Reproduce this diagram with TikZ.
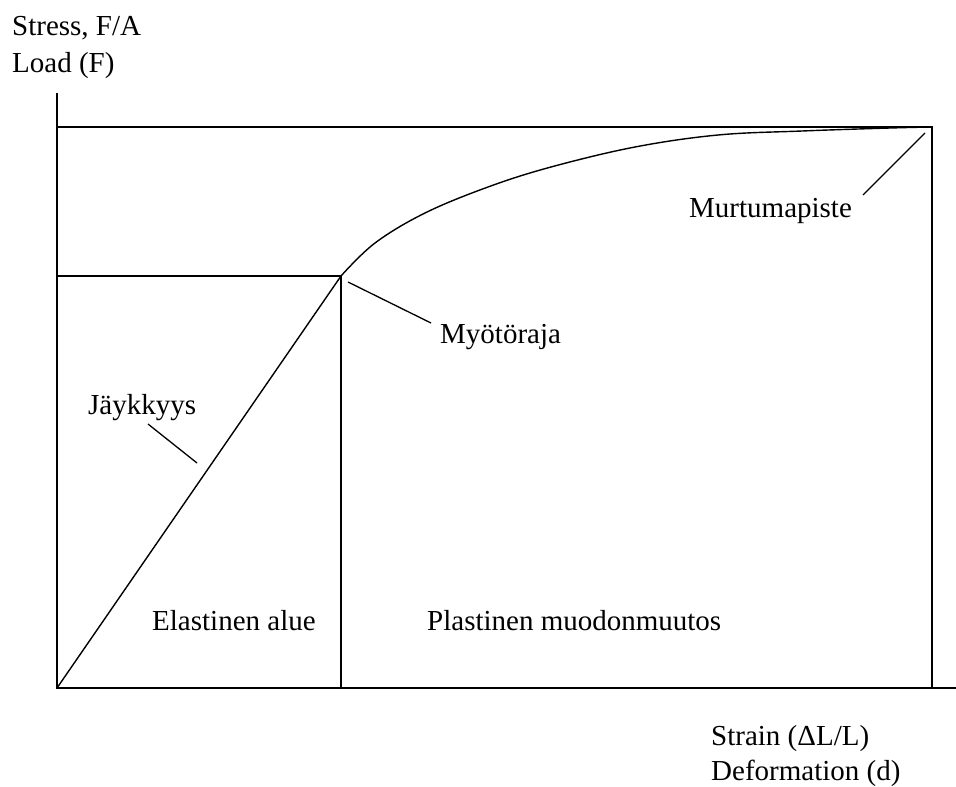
\documentclass[tikz,border=0pt]{standalone}
\usepackage{fontspec}
\setmainfont{Liberation Serif}
\begin{document}
\begin{tikzpicture}[x=1pt,y=-1pt,
  axis/.style={line width=1.7pt,black},
  frame/.style={line width=1.5pt,black},
  curve/.style={line width=1.4pt,black},
  leader/.style={line width=1.3pt,black},
  lbl/.style={inner sep=0pt,font=\fontsize{29}{34}\selectfont}]
\useasboundingbox (0,0) rectangle (956,787);
% key points
\coordinate (O) at (57,688);
\coordinate (ytop) at (57,93);
\coordinate (xend) at (956,688);
\coordinate (yieldpt) at (341,276);
\coordinate (yieldx) at (341,688);
\coordinate (yieldy) at (57,276);
\coordinate (breakpt) at (932,127);
\coordinate (topl) at (57,127);
\coordinate (breakx) at (932,688);
% axes
\draw[axis] (ytop) -- (O) -- (xend);
% frame lines
\draw[frame] (topl) -- (breakpt) -- (breakx);
\draw[frame] (yieldy) -- (yieldpt) -- (yieldx);
% elastic line
\draw[curve] (O) -- (yieldpt);
% plastic curve
\draw[curve] plot[smooth,tension=0.6] coordinates {(yieldpt) (375,243) (425,213) (488,187) (551,167) (635,147) (718,135) (802,131) (890,128) (breakpt)};
% labels
\node[lbl,anchor=base west] (stress) at (12,35) {Stress, F/A};
\node[lbl,anchor=base west] (load) at (12,72) {Load (F)};
\node[lbl,anchor=base west] (strain) at (711,745) {Strain (ΔL/L)};
\node[lbl,anchor=base west] (deform) at (711,780) {Deformation (d)};
\node[lbl,anchor=base west] (elast) at (152,630) {Elastinen alue};
\node[lbl,anchor=base west] (plast) at (427,630) {Plastinen muodonmuutos};
\node[lbl,anchor=base west] (jayk) at (88,414) {Jäykkyys};
\node[lbl,anchor=base west] (myot) at (440,343) {Myötöraja};
\node[lbl,anchor=base west] (murt) at (689,217) {Murtumapiste};
% leaders
\coordinate (jaykA) at (148,424);
\coordinate (jaykB) at (197,463);
\coordinate (myotA) at (348,282);
\coordinate (myotB) at (431,323);
\coordinate (murtA) at (925,133);
\coordinate (murtB) at (863,195);
\draw[leader] (jaykA) -- (jaykB);
\draw[leader] (myotA) -- (myotB);
\draw[leader] (murtA) -- (murtB);
\end{tikzpicture}
\end{document}
